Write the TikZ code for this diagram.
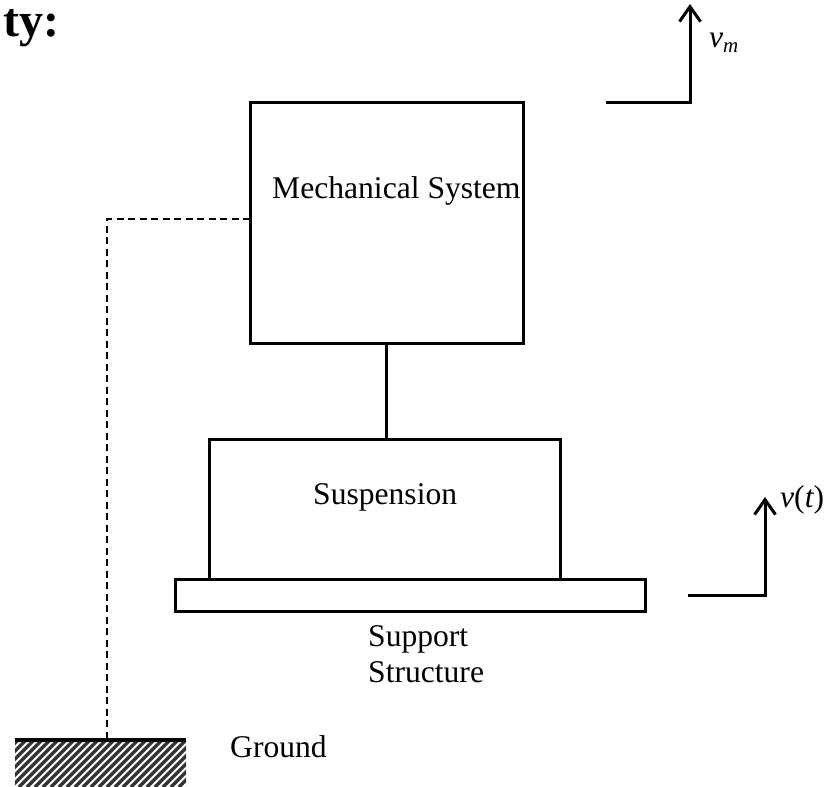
\documentclass[tikz,border=0pt]{standalone}
\usepackage{fontspec}
\setmainfont{Liberation Serif}
\usetikzlibrary{arrows.meta}
\begin{document}
\begin{tikzpicture}[x=1pt,y=-1pt,
  box/.style={draw=black,line width=3pt,rectangle,inner sep=0pt,fill=white},
  lbl/.style={anchor=base west,inner sep=0pt,font=\fontsize{31.6}{36}\selectfont},
  wire/.style={line width=3pt},
  vel/.style={line width=3pt,-{Straight Barb[length=15pt,width=21pt,line width=3pt]}}]
\useasboundingbox (0,0) rectangle (830,787);
% title fragment
\node[anchor=base west,inner sep=0pt,font=\fontsize{48}{52}\selectfont\bfseries] (title) at (3,36) {ty:};
% boxes
\node[box,minimum width=273pt,minimum height=241pt] (mech) at (386.5,222.5) {};
\node[box,minimum width=351pt,minimum height=140pt] (susp) at (384.5,509) {};
\node[box,minimum width=470pt,minimum height=32pt] (plate) at (410,595) {};
% ground hatch
\begin{scope}
  \clip (15,741) rectangle (186,787);
  \foreach \k in {0,8,...,248} {
    \draw[line width=3.2pt,black!80] (15+\k-60,787) -- (15+\k,727);
  }
\end{scope}
\coordinate (gl) at (15,740);
\coordinate (gr) at (186,740);
\draw[line width=3.5pt] (gl) -- (gr);
\coordinate (gtop) at (107,740);
% texts
\node[lbl] (tmech) at (272,198) {Mechanical System};
\node[lbl] (tsusp) at (313,504) {Suspension};
\node[lbl] (tsup1) at (368,646) {Support};
\node[lbl] (tsup2) at (368,682) {Structure};
\node[lbl] (tgnd) at (230,757) {Ground};
% connector
\draw[wire] (mech.south) -- (mech.south |- susp.north);
% dashed link
\coordinate (dl) at (250,219);
\draw[line width=1.8pt,dash pattern=on 7pt off 4.5pt] (dl) -| (gtop);
% velocity arrows
\coordinate (vm0) at (606,102);
\coordinate (vmtip) at (690,4);
\draw[vel] (vm0) -| (vmtip);
\node[lbl] (tvm) at (709,47) {\itshape v\raisebox{-5pt}{\fontsize{21}{21}\selectfont\itshape m}};
\coordinate (vt0) at (688,595);
\coordinate (vttip) at (765,497);
\draw[vel] (vt0) -| (vttip);
\node[lbl] (tvt) at (780,507) {\itshape v\upshape(\itshape t\upshape)};
\end{tikzpicture}
\end{document}
